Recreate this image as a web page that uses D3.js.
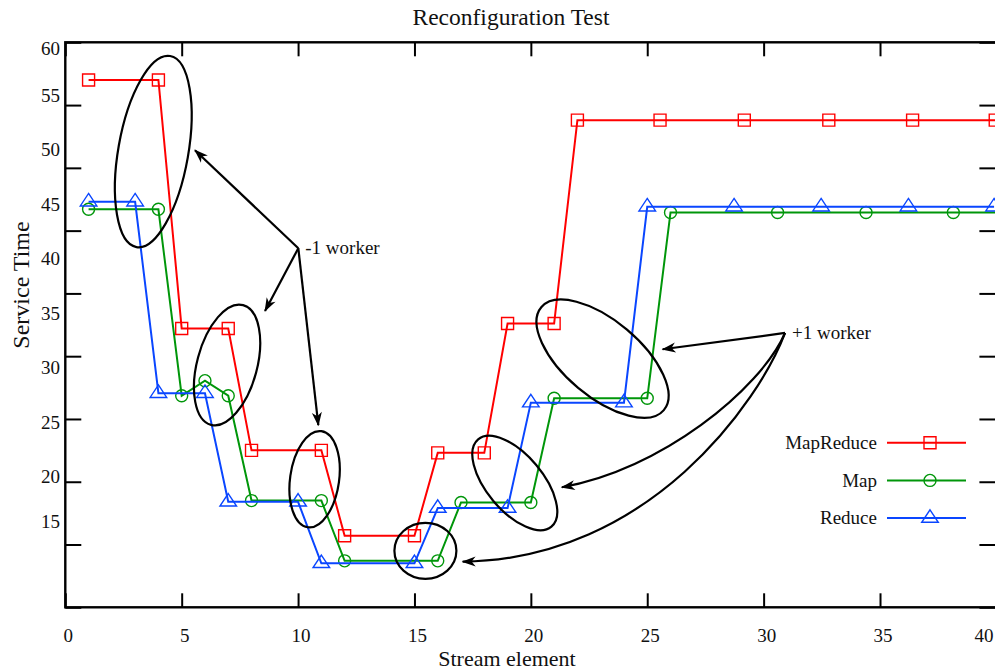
<!DOCTYPE html>
<html>
<head>
<meta charset="utf-8">
<title>Reconfiguration Test</title>
<style>
  body { margin: 0; background: #fff; }
  svg { display: block; font-family: "Liberation Serif", "Times New Roman", serif; }
  .frame path { display: none; }
  .frame line { stroke: #000; stroke-width: 2; }
  .series path.line { fill: none; stroke-width: 2; }
  .mark { fill: none; stroke-width: 1.4; }
  .note { fill: none; stroke: #000; stroke-width: 2.2; }
</style>
</head>
<body>
<svg width="995" height="672"></svg>
<script src="https://d3js.org/d3.v7.min.js"></script>
<script>

// ---- data ----
var streamMapReduce = [1, 4, 5, 7, 8, 11, 12, 15, 16, 18, 19, 21, 22, 25.55, 29.17, 32.8, 36.4, 39.95];
var timeMapReduce   = [57.0, 57.0, 37.2, 37.2, 27.5, 27.5, 20.7, 20.7, 27.3, 27.3, 37.6, 37.6, 53.8, 53.8, 53.8, 53.8, 53.8, 53.8];

var streamMap = [1, 4, 5, 6, 7, 8, 11, 12, 16, 17, 20, 21, 25, 26, 30.6, 34.4, 38.15, 41.9];
var timeMap   = [46.7, 46.7, 31.85, 33.05, 31.85, 23.5, 23.5, 18.7, 18.7, 23.35, 23.35, 31.65, 31.65, 46.45, 46.45, 46.45, 46.45, 46.45];

var streamReduce = [1, 3, 4, 6, 7, 10, 11, 15, 16, 19, 20, 24, 25, 28.73, 32.47, 36.22, 39.9];
var timeReduce   = [47.3, 47.3, 32.05, 32.05, 23.4, 23.4, 18.5, 18.5, 22.9, 22.9, 31.3, 31.3, 46.9, 46.9, 46.9, 46.9, 46.9];

var seriesNames = ["MapReduce", "Map", "Reduce"];
var xTickLabels = [0, 5, 10, 15, 20, 25, 30, 35, 40];
var yTickLabels = [60, 55, 50, 45, 40, 35, 30, 25, 20, 15];

// annotation ellipses (centre in data units)
var ellipses = [
  {x: 3.78, y: 51.3, rx: 35, ry: 97, rot: 10},
  {x: 6.95, y: 34.3, rx: 30, ry: 62, rot: 15},
  {x: 10.71, y: 25.2, rx: 24.5, ry: 48.5, rot: 8},
  {x: 15.47, y: 19.5, rx: 31, ry: 28, rot: 0},
  {x: 19.31, y: 24.9, rx: 28, ry: 57, rot: -40},
  {x: 23.08, y: 34.8, rx: 38, ry: 80, rot: -50}
];
var minusLabel = {x: 10.01, y: 43.6, text: "-1 worker"};
var minusArrows = [[5.57, 51.4], [8.58, 38.6], [10.87, 29.5]];
var plusLabel = {x: 30.92, y: 36.85, text: "+1 worker"};
var plusArrows = [
  {c1: null, c2: null, to: [25.66, 35.55]},
  {c1: [29.84, 32.3], c2: [25.55, 25.9], to: [21.33, 24.56]},
  {c1: [29.84, 31.5], c2: [25.12, 18.8], to: [17.07, 18.63]}
];

var svg = d3.select("svg"),
    margin = {top: 42.3, right: -1.4, bottom: 64.7, left: 65.3},
    width = +svg.attr("width") - margin.left - margin.right,
    height = +svg.attr("height") - margin.top - margin.bottom;

var x = d3.scaleLinear().domain([0, 40]).range([margin.left, margin.left + width]);
var y = d3.scaleLinear().domain([15, 60]).range([margin.top + height, margin.top]);
// the printed y labels sit a little off the tick marks in the original
var yLabel = d3.scaleLinear().domain([15, 20, 55, 60]).range([521.7, 476.7, 95, 48.3]);

var color = d3.scaleOrdinal().domain(seriesNames).range(["#ff0000", "#00960a", "#0a46ff"]);

var series = [
  {name: "MapReduce", xs: streamMapReduce, ys: timeMapReduce, symbol: "square"},
  {name: "Map", xs: streamMap, ys: timeMap, symbol: "circle"},
  {name: "Reduce", xs: streamReduce, ys: timeReduce, symbol: "triangle"}
];

function symbolPath(s) {
  if (s == "square") return "M-6,-6H6V6H-6Z";
  if (s == "circle") return "M6,0A6,6 0 1,1 -6,0A6,6 0 1,1 6,0Z";
  return "M0,-8.3L8.3,4.2H-8.3Z";
}

svg.append("defs").append("clipPath").attr("id", "plot")
  .append("rect")
  .attr("x", margin.left).attr("y", margin.top)
  .attr("width", width).attr("height", height);

svg.select("defs").append("marker")
  .attr("id", "head")
  .attr("markerUnits", "userSpaceOnUse")
  .attr("viewBox", "-14 -6 16 12")
  .attr("refX", 0).attr("refY", 0)
  .attr("markerWidth", 16).attr("markerHeight", 12)
  .attr("orient", "auto")
  .append("path")
  .attr("d", "M1,0L-13,-5L-9,0L-13,5Z")
  .attr("fill", "#000");

// ---- frame and ticks ----
svg.append("g").attr("class", "frame")
  .attr("transform", "translate(0," + (margin.top + height) + ")")
  .call(d3.axisBottom(x).tickValues(xTickLabels).tickSize(-14).tickFormat(""));
svg.append("g").attr("class", "frame")
  .attr("transform", "translate(0," + margin.top + ")")
  .call(d3.axisTop(x).tickValues(xTickLabels).tickSize(-14).tickFormat(""));
svg.append("g").attr("class", "frame")
  .attr("transform", "translate(" + margin.left + ",0)")
  .call(d3.axisLeft(y).tickValues(yTickLabels).tickSize(-16).tickFormat(""));
svg.append("g").attr("class", "frame")
  .attr("transform", "translate(" + (margin.left + width) + ",0)")
  .call(d3.axisRight(y).tickValues(yTickLabels).tickSize(-17).tickFormat(""));

svg.append("rect")
  .attr("x", margin.left).attr("y", margin.top)
  .attr("width", width).attr("height", height)
  .attr("fill", "none").attr("stroke", "#000").attr("stroke-width", 2.4);

// tick labels
svg.append("g")
  .attr("font-size", 19).attr("fill", "#111")
  .selectAll("text")
  .data(xTickLabels)
  .enter().append("text")
  .attr("x", function(d) { return x(d); })
  .attr("dx", function(d, i) { return i == xTickLabels.length - 1 ? -3 : 3; })
  .attr("y", 641.5)
  .attr("text-anchor", function(d, i) { return i == xTickLabels.length - 1 ? "end" : "middle"; })
  .text(function(d) { return d; });

svg.append("g")
  .attr("font-size", 19).attr("fill", "#111")
  .selectAll("text")
  .data(yTickLabels)
  .enter().append("text")
  .attr("x", 60)
  .attr("y", function(d) { return yLabel(d); })
  .attr("dy", "0.35em")
  .attr("text-anchor", "end")
  .text(function(d) { return d; });

// titles
svg.append("text")
  .attr("x", 511).attr("y", 25)
  .attr("text-anchor", "middle").attr("font-size", 23.5).attr("fill", "#111")
  .text("Reconfiguration Test");

svg.append("text")
  .attr("x", 507).attr("y", 666)
  .attr("text-anchor", "middle").attr("font-size", 22).attr("fill", "#111")
  .text("Stream element");

svg.append("text")
  .attr("transform", "translate(29,285) rotate(-90)")
  .attr("text-anchor", "middle").attr("font-size", 24).attr("fill", "#111")
  .text("Service Time");

// ---- series ----
var line = d3.line()
  .x(function(d) { return x(d[0]); })
  .y(function(d) { return y(d[1]); });

var plot = svg.append("g").attr("clip-path", "url(#plot)");

series.forEach(function(s) {
  var pts = s.xs.map(function(v, i) { return [v, s.ys[i]]; });
  var g = plot.append("g").attr("class", "series");
  g.append("path")
    .attr("class", "line")
    .attr("d", line(pts))
    .attr("stroke", color(s.name));
  g.selectAll("path.mark")
    .data(pts)
    .enter().append("path")
    .attr("class", "mark")
    .attr("transform", function(d) { return "translate(" + x(d[0]) + "," + y(d[1]) + ")"; })
    .attr("d", symbolPath(s.symbol))
    .attr("stroke", color(s.name));
});

// ---- annotations ----
var notes = svg.append("g");

notes.selectAll("ellipse")
  .data(ellipses)
  .enter().append("ellipse")
  .attr("class", "note")
  .attr("transform", function(d) { return "translate(" + x(d.x) + "," + y(d.y) + ") rotate(" + d.rot + ")"; })
  .attr("rx", function(d) { return d.rx; })
  .attr("ry", function(d) { return d.ry; });

minusArrows.forEach(function(t) {
  notes.append("path")
    .attr("class", "note")
    .attr("d", "M" + x(minusLabel.x) + "," + y(minusLabel.y) + "L" + x(t[0]) + "," + y(t[1]))
    .attr("marker-end", "url(#head)");
});

plusArrows.forEach(function(a) {
  var p = d3.path();
  p.moveTo(x(plusLabel.x), y(plusLabel.y));
  if (a.c1) p.bezierCurveTo(x(a.c1[0]), y(a.c1[1]), x(a.c2[0]), y(a.c2[1]), x(a.to[0]), y(a.to[1]));
  else p.lineTo(x(a.to[0]), y(a.to[1]));
  notes.append("path")
    .attr("class", "note")
    .attr("d", p.toString())
    .attr("marker-end", "url(#head)");
});

[minusLabel, plusLabel].forEach(function(l) {
  notes.append("text")
    .attr("x", x(l.x)).attr("y", y(l.y))
    .attr("dx", 7).attr("dy", "0.3em")
    .attr("font-size", 19).attr("fill", "#111")
    .text(l.text);
});

// ---- legend ----
var legend = svg.append("g")
  .attr("font-size", 19)
  .selectAll("g")
  .data(series)
  .enter().append("g")
  .attr("transform", function(d, i) { return "translate(0," + (442.7 + i * 37.7) + ")"; });

legend.append("text")
  .attr("x", 877).attr("dy", "0.33em")
  .attr("text-anchor", "end").attr("fill", "#111")
  .text(function(d) { return d.name; });

legend.append("line")
  .attr("x1", 887).attr("x2", 966)
  .attr("stroke-width", 2)
  .attr("stroke", function(d) { return color(d.name); });

legend.append("path")
  .attr("class", "mark")
  .attr("transform", "translate(930,0)")
  .attr("d", function(d) { return symbolPath(d.symbol); })
  .attr("stroke", function(d) { return color(d.name); });

</script>
</body>
</html>
